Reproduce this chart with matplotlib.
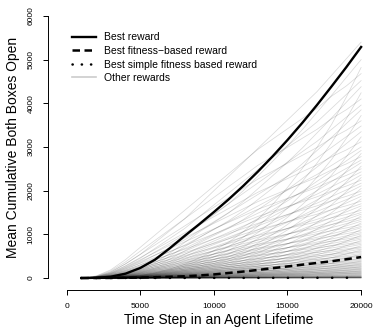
import matplotlib
matplotlib.use("Agg")
import matplotlib.pyplot as plt
from matplotlib.lines import Line2D
import numpy as np

# data
steps = [1000, 2000, 3000, 4000, 5000, 6000, 7000, 8000, 9000, 10000,
         11000, 12000, 13000, 14000, 15000, 16000, 17000, 18000, 19000, 20000]
best_reward = [0, 5, 30, 100, 230, 420, 680, 960, 1230, 1510,
               1800, 2110, 2440, 2790, 3160, 3550, 3960, 4390, 4830, 5290]
best_fitness = [0, 0, 2, 5, 10, 18, 28, 40, 58, 82,
                115, 148, 185, 225, 265, 305, 345, 385, 430, 480]
best_simple = [0, 0, 0, 1, 1, 1, 2, 2, 2, 3,
               3, 3, 4, 4, 4, 5, 5, 5, 6, 6]

# shapes of the grey curves (fraction of final value)
shape_early = [0, 0.005, 0.025, 0.06, 0.10, 0.15, 0.20, 0.25, 0.31, 0.37,
               0.43, 0.49, 0.55, 0.61, 0.67, 0.73, 0.79, 0.86, 0.93, 1.0]
shape_mid = [0, 0.001, 0.006, 0.019, 0.043, 0.079, 0.129, 0.185, 0.24, 0.29,
             0.34, 0.40, 0.467, 0.535, 0.605, 0.679, 0.758, 0.837, 0.919, 1.0]
shape_late = [0, 0, 0.002, 0.006, 0.013, 0.025, 0.042, 0.065, 0.095, 0.13,
              0.17, 0.22, 0.28, 0.35, 0.43, 0.52, 0.62, 0.73, 0.86, 1.0]
shape_flat = [0, 0.01, 0.04, 0.09, 0.15, 0.21, 0.27, 0.33, 0.39, 0.45,
              0.51, 0.57, 0.63, 0.68, 0.73, 0.78, 0.83, 0.89, 0.94, 1.0]

# final values (at 20000) of the other rewards
other_high = [5400, 5000, 4820, 4680, 4520, 4380, 4240, 4100, 3960, 3850,
              3720, 3600, 3480, 3350, 3230, 3120, 3000]
other_upper = [2920, 2850, 2780, 2700, 2640, 2560, 2500, 2430, 2360, 2300,
               2240, 2170, 2110, 2050, 1990, 1930, 1870, 1810, 1760, 1700,
               1650, 1600, 1550]
other_lower = [1500, 1460, 1420, 1380, 1340, 1300, 1260, 1220, 1180, 1150,
               1110, 1080, 1040, 1010, 980, 950, 920, 890, 860, 830, 800,
               770, 740, 710, 690, 660, 640, 610, 590, 560, 540, 520, 500]
other_low = [480, 460, 440, 420, 400, 385, 370, 350, 335, 320, 305, 290,
             275, 260, 250, 235, 220, 210, 195, 185, 170, 160, 150, 140,
             130, 120, 110, 100, 90, 80, 70, 60, 50, 45, 40, 35, 30, 25,
             20, 15, 12, 10, 8, 6, 5, 4, 3, 2]

plt.rcParams["font.family"] = ["Liberation Sans", "DejaVu Sans"]

fig = plt.figure(figsize=(3.74, 3.33), dpi=100)
ax = fig.add_axes([66.6 / 374, (333 - 288.5) / 333, 305.7 / 374, 283 / 333])

shapes = [shape_early, shape_mid, shape_late, shape_flat]
finals = other_high + other_upper + other_lower + other_low
for i, f in enumerate(finals):
    ax.plot(steps, np.array(shapes[i % 4]) * f, color="black", alpha=0.15, lw=0.55)

ax.plot(steps, best_simple, color="black", lw=1.8, linestyle=(0, (0.1, 5.8)),
        dash_capstyle="round")
ax.plot(steps, best_fitness, color="black", lw=1.8, linestyle=(0, (3.0, 1.8)))
ax.plot(steps, best_reward, color="black", lw=1.7)

ax.set_xlim(240, 20760)
ax.set_ylim(-240, 6240)

for s in ["top", "right"]:
    ax.spines[s].set_visible(False)
ax.spines["left"].set_position(("outward", 13.4))
ax.spines["bottom"].set_position(("outward", 1.1))
ax.spines["left"].set_bounds(0, 6000)
ax.spines["bottom"].set_bounds(0, 20000)
ax.spines["left"].set_linewidth(0.7)
ax.spines["bottom"].set_linewidth(0.7)

ax.set_xticks([0, 5000, 10000, 15000, 20000])
ax.set_yticks([0, 1000, 2000, 3000, 4000, 5000, 6000])
ax.tick_params(direction="out", length=3.6, width=0.7, labelsize=6, pad=6)
for lab in ax.get_yticklabels():
    lab.set_rotation(90)
    lab.set_va("center")

fig.text(219 / 374, 1 - 320 / 333, "Time Step in an Agent Lifetime",
         ha="center", va="center", fontsize=10)
fig.text(13 / 374, 1 - 147 / 333, "Mean Cumulative Both Boxes Open",
         ha="center", va="center", rotation=90, fontsize=10)

handles = [
    Line2D([], [], color="black", lw=1.7),
    Line2D([], [], color="black", lw=1.8, linestyle=(0, (3.0, 1.8))),
    Line2D([], [], color="black", lw=1.8, linestyle=(0, (0.1, 3.6)), dash_capstyle="round"),
    Line2D([], [], color="0.8", lw=1.2),
]
labels = ["Best reward", "Best fitness\u2212based reward",
          "Best simple fitness based reward", "Other rewards"]
fig.legend(handles, labels, loc="upper left", bbox_to_anchor=(67 / 374, 1 - 27 / 333),
           frameon=False, fontsize=7.5, handlelength=2.3, handletextpad=0.75,
           labelspacing=0.35, borderpad=0)

fig.savefig("out.png", dpi=100)
